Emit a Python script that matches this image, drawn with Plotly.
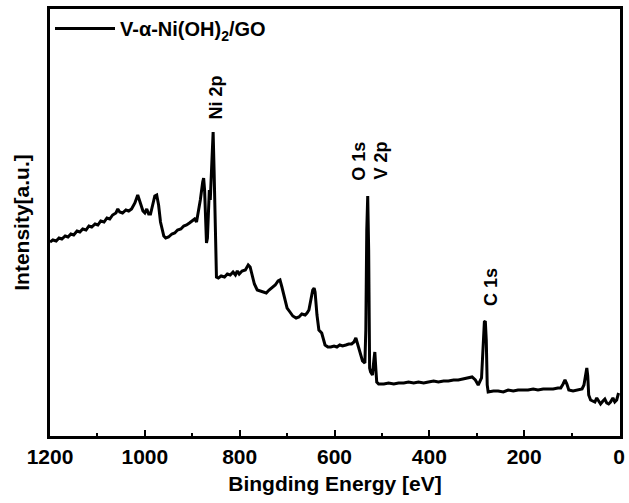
import plotly.graph_objects as go

# Binding energy (eV) and intensity (a.u.)
energy = [1200, 1194, 1187, 1181, 1175, 1168, 1162, 1156, 1150, 1143, 1137, 1131, 1124, 1118, 1112,
          1105, 1099, 1093, 1086, 1080, 1074, 1068, 1061, 1057, 1053, 1047, 1040, 1034, 1028, 1021,
          1015, 1009, 1004, 1000, 996, 992, 988, 983, 979, 975, 971, 967, 960, 956, 950, 943, 937,
          931, 924, 918, 912, 906, 899, 895, 891, 887, 883, 878, 876, 874, 872, 870, 868, 866, 864,
          862, 860, 858, 856, 854, 851, 849, 845, 839, 832, 826, 820, 814, 809, 805, 801, 795, 788,
          782, 778, 774, 769, 763, 757, 751, 744, 738, 732, 725, 719, 715, 711, 706, 700, 694, 688,
          681, 675, 669, 662, 658, 654, 650, 646, 643, 641, 637, 633, 627, 620, 614, 608, 601, 595,
          589, 583, 576, 570, 564, 559, 555, 551, 545, 541, 536, 534, 532, 530, 528, 526, 524, 520,
          517, 515, 513, 511, 507, 496, 486, 475, 465, 454, 444, 433, 423, 412, 402, 391, 381, 370,
          360, 349, 339, 328, 318, 310, 303, 297, 290, 286, 284, 282, 280, 278, 276, 265, 255, 244,
          234, 223, 213, 202, 192, 181, 171, 160, 150, 139, 129, 123, 118, 114, 110, 106, 97, 87,
          78, 74, 70, 68, 66, 64, 60, 55, 51, 47, 43, 39, 34, 30, 26, 22, 18, 13, 9, 5, 1]

intensity = [194, 196, 195, 198, 197, 200, 199, 202, 201, 205, 204, 207, 206, 210, 209,
             212, 211, 215, 214, 218, 217, 221, 223, 227, 224, 223, 226, 225, 227, 233,
             241, 233, 225, 223, 227, 222, 222, 232, 240, 241, 231, 214, 200, 198, 199, 202, 203,
             206, 207, 210, 211, 213, 215, 217, 214, 224, 236, 254, 258, 246, 211, 193, 198, 226, 246,
             236, 266, 296, 304, 266, 196, 159, 158, 160, 159, 162, 161, 164, 161, 165, 162, 165, 166,
             171, 169, 160, 152, 146, 145, 144, 143, 146, 148, 151, 155, 156, 149, 138, 128, 124, 120,
             118, 119, 122, 121, 123, 126, 136, 146, 148, 144, 121, 106, 103, 91, 89, 89, 90, 89,
             91, 90, 91, 92, 92, 94, 98, 91, 81, 75, 73, 106, 206, 240, 186, 68, 64, 61,
             76, 84, 68, 54, 52, 52, 53, 52, 53, 53, 54, 53, 54, 53, 54, 55, 54, 55,
             55, 56, 56, 57, 58, 59, 56, 51, 58, 91, 114, 115, 96, 51, 44, 45, 45, 44,
             46, 45, 46, 46, 46, 47, 46, 47, 47, 47, 48, 48, 52, 56, 52, 46, 45, 46,
             47, 51, 66, 68, 60, 41, 36, 35, 34, 38, 35, 32, 35, 37, 33, 32, 34, 38, 34, 36, 43]

series_name = "V-α-Ni(OH)<sub>2</sub>/GO"

peak_labels = ["Ni 2p", "O 1s", "V 2p", "C 1s"]
peak_label_energy = [849, 549, 503, 270]
peak_label_intensity = [339, 275, 275, 149]

x_tick_vals = [1200, 1000, 800, 600, 400, 200, 0]
x_tick_text = ["1200", "1000", "800", "600", "400", "200", "0"]

FONT = "Liberation Sans, Arial, sans-serif"

fig = go.Figure()
fig.add_trace(go.Scatter(
    x=energy, y=intensity, mode="lines", name=series_name,
    line=dict(color="black", width=3),
))

for txt, ex, iy in zip(peak_labels, peak_label_energy, peak_label_intensity):
    fig.add_annotation(x=ex, y=iy, xref="x", yref="y", text=txt, textangle=-90,
                       showarrow=False,
                       font=dict(family=FONT, size=18, color="black", weight="bold"))

fig.update_layout(
    width=629, height=503,
    margin=dict(l=50, r=4, t=9, b=67),
    paper_bgcolor="white", plot_bgcolor="white",
    showlegend=True,
    legend=dict(x=0.0, y=1.0, xanchor="left", yanchor="top",
                bgcolor="rgba(0,0,0,0)", borderwidth=0, itemwidth=60,
                font=dict(family=FONT, size=20, color="black", weight="bold")),
    xaxis=dict(
        range=[1200, -2], showgrid=False, zeroline=False,
        showline=True, linecolor="black", linewidth=2.5, mirror=True,
        ticks="inside", ticklen=6, tickwidth=2, tickcolor="black",
        tickvals=x_tick_vals, ticktext=x_tick_text,
        minor=dict(ticks="inside", ticklen=3, tickwidth=2, tickcolor="black", dtick=100),
        tickfont=dict(family=FONT, size=21, color="black", weight="bold"),
        title=dict(text="Bingding Energy [eV]", standoff=10,
                   font=dict(family=FONT, size=21, color="black", weight="bold")),
    ),
    yaxis=dict(
        range=[0, 427], showgrid=False, zeroline=False,
        showline=True, linecolor="black", linewidth=2.5, mirror=True,
        ticks="", showticklabels=False,
        title=dict(text="Intensity[a.u.]", standoff=12,
                   font=dict(family=FONT, size=21, color="black", weight="bold")),
    ),
)

fig.write_html("out.html")
